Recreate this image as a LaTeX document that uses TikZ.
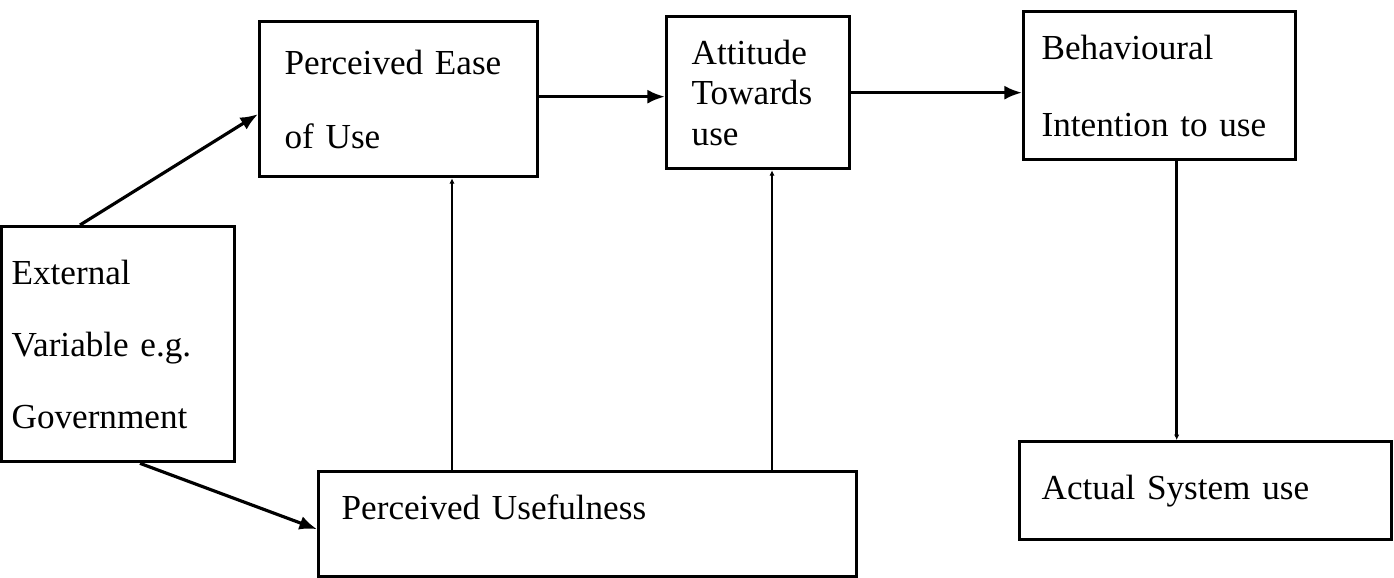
\documentclass[tikz,border=0pt]{standalone}
\usepackage{fontspec}
\setmainfont{Liberation Serif}
\usetikzlibrary{arrows.meta}

\begin{document}
\begin{tikzpicture}[font=\fontsize{20}{24}\selectfont,
        box/.style={draw, line width=1.9pt, anchor=north west, align=left},
        flow/.style={-{Latex[length=10pt,width=8pt]}, line width=1.8pt},
        feed/.style={-{Latex[length=3pt,width=3pt]}, line width=1.5pt}] %Modelo de aceptacion de tecnologia
        \useasboundingbox (0,0) rectangle (27.88,-11.54);

        \node[box, minimum width=5.56cm, minimum height=3.1cm, text width=4.56cm, font=\fontsize{20}{42}\selectfont] (peou) at (5.16,-0.4) {Perceived Ease\\of Use};
        \node[box, minimum width=3.66cm, minimum height=3.04cm, text width=2.66cm, font=\fontsize{20}{23}\selectfont] (att) at (13.3,-0.3) {Attitude\\Towards\\use};
        \node[box, minimum width=5.44cm, minimum height=2.96cm, text width=4.72cm, font=\fontsize{20}{44}\selectfont] (bi) at (20.44,-0.2) {Behavioural\\Intention to use};
        \node[box, minimum width=4.66cm, minimum height=4.7cm, text width=4.26cm, font=\fontsize{20}{41}\selectfont] (ext) at (0,-4.5) {External\\Variable e.g.\\Government};
        \node[box, minimum width=10.76cm, minimum height=2.1cm, text width=9.84cm, text height=0.5cm, text depth=0.68cm] (pu) at (6.34,-9.4) {Perceived Usefulness};
        \node[box, minimum width=7.44cm, minimum height=1.96cm, text width=6.56cm] (asu) at (20.36,-8.8) {Actual System use};

        \coordinate (u1) at ([xshift=2.7cm]pu.north west);
        \coordinate (u2) at ([xshift=9.1cm]pu.north west);
        \coordinate (b1) at ([xshift=0.34cm]bi.south);

        \draw[flow] ([xshift=1.6cm]ext.north west) -- ([yshift=-0.3cm]peou.west);
        \draw[flow] ([xshift=2.8cm]ext.south west) -- ([yshift=-0.1cm]pu.west);
        \draw[flow] ([yshift=0.05cm]peou.east) -- ([yshift=0.05cm]peou.east -| att.west);
        \draw[flow] (att.east) -- (att.east -| bi.west);

        \draw[feed] (u1) -- (u1 |- peou.south);
        \draw[feed] (u2) -- (u2 |- att.south);
        \draw[feed] (b1) -- (b1 |- asu.north);
    \end{tikzpicture}
\end{document}
